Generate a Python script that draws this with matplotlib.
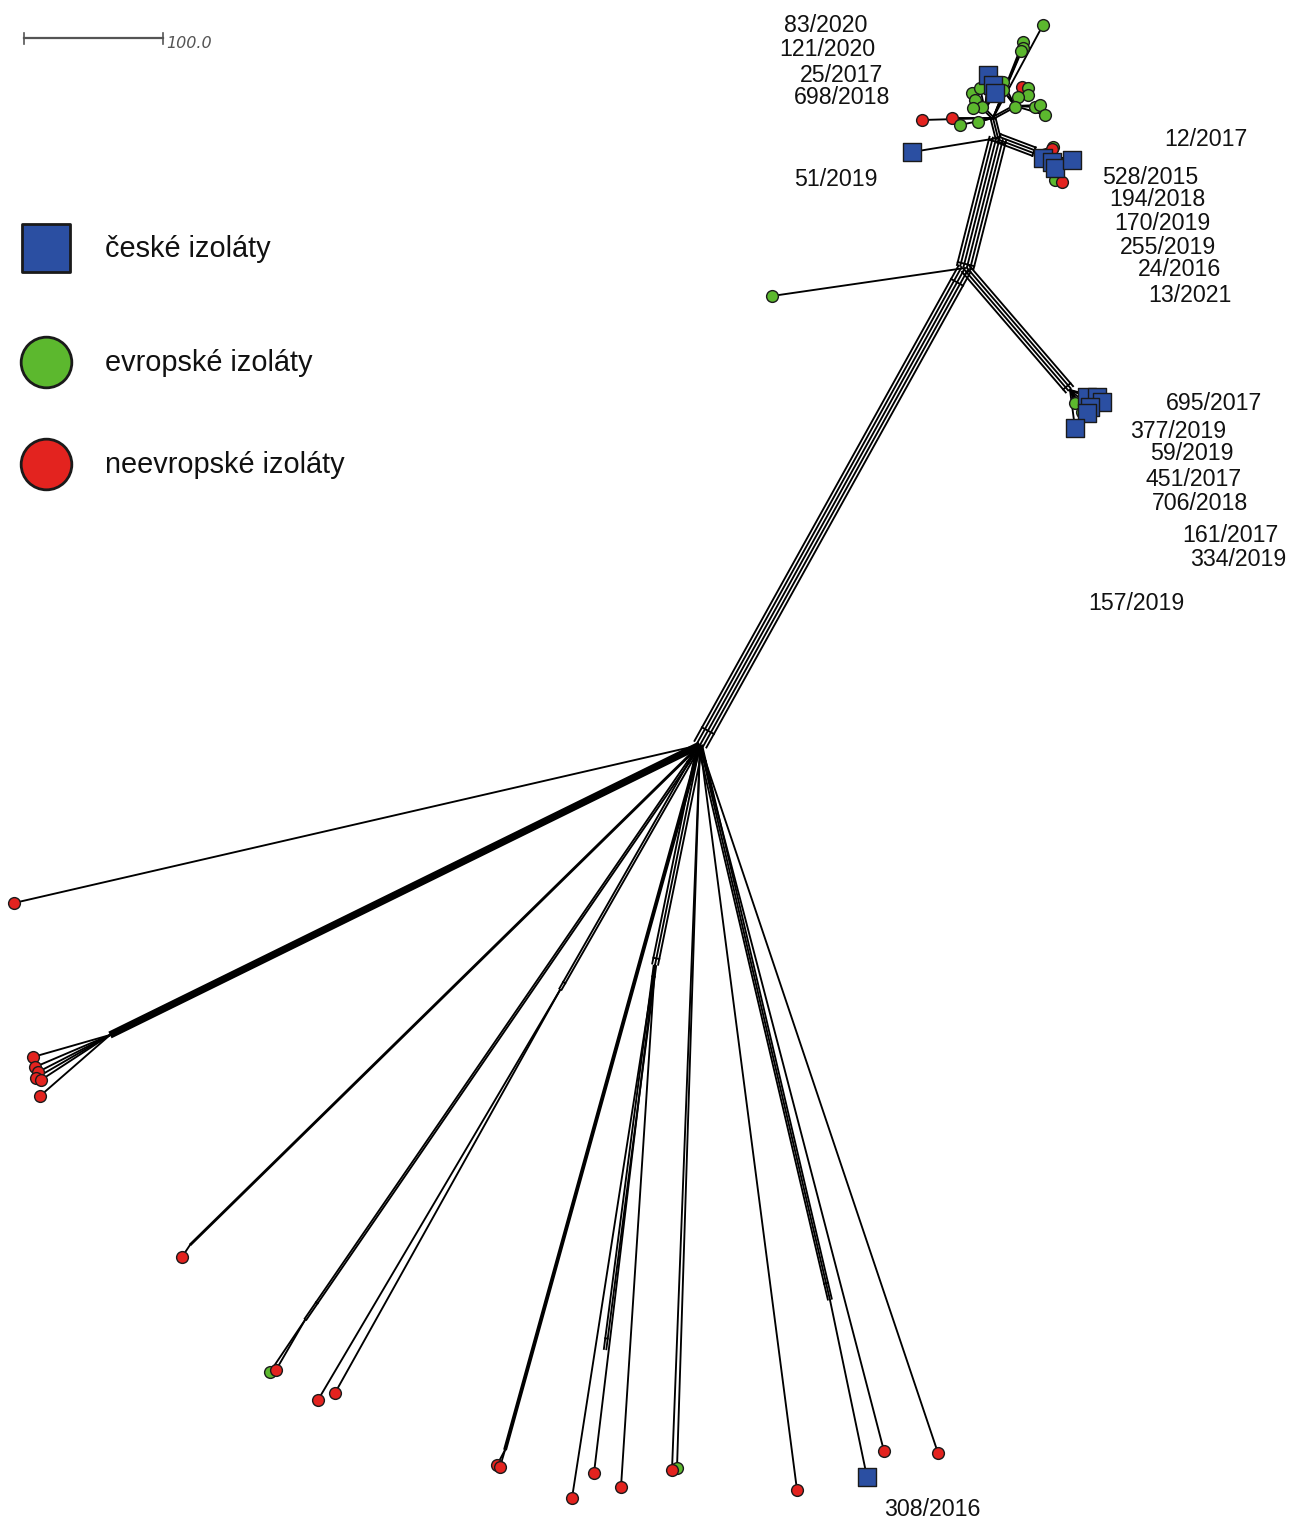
import numpy as np
import matplotlib
matplotlib.use("Agg")
import matplotlib.pyplot as plt

plt.rcParams['font.family'] = ['Liberation Sans', 'DejaVu Sans']

# internal nodes of the network (picture coords, px) and their parents / band widths
node_x = [700, 965, 998, 993, 1035, 1070, 110, 305, 655, 605, 830, 505, 560, 190, 985, 1015]
node_y = [745, 268, 138, 118, 152, 390, 1035, 1320, 965, 1350, 1300, 1450, 990, 1245, 110, 106]
node_parent = [-1, 0, 1, 2, 2, 1, 0, 0, 0, 8, 0, 0, 0, 0, 3, 3]
node_lines = [1, 5, 6, 3, 4, 4, 6, 2, 3, 2, 3, 3, 2, 2, 2, 2]
node_gap = [3, 3.4, 3.4, 2.5, 3, 3.2, 1.1, 2.0, 3, 2.5, 2.0, 1.0, 2.5, 1.0, 2, 2]

# isolates: position, group (b = české, g = evropské, r = neevropské), parent node
tip_x = [1043, 1023, 1023, 1021, 972, 980, 975, 982, 973,
         998, 1003, 1003, 1022, 1028, 1028, 1018, 1015, 1035, 1040, 1045,
         922, 952, 960, 978, 988, 993, 995, 912,
         1053, 1052, 1043, 1052, 1055, 1072, 1055, 1062,
         1075, 1082, 1087, 1097, 1102, 1090, 1087, 1075,
         772, 14, 33, 35, 38, 36, 41, 40, 182, 270, 276, 318, 335,
         497, 500, 572, 594, 621, 677, 672, 797, 867, 884, 938]
tip_y = [25, 42, 48, 51, 93, 88, 100, 107, 108,
         83, 82, 90, 87, 88, 95, 97, 107, 107, 105, 115,
         120, 118, 125, 122, 75, 85, 93, 152,
         147, 149, 158, 162, 168, 160, 180, 182,
         403, 412, 397, 397, 402, 407, 413, 428,
         296, 903, 1057, 1067, 1072, 1078, 1080, 1096, 1257, 1372, 1370, 1400, 1393,
         1465, 1467, 1498, 1473, 1487, 1468, 1470, 1490, 1477, 1451, 1453]
tip_group = list("gggg" "ggggg" "ggg" "rgg" "ggggg" "rrgg" "bbb" "b"
                 "grbbbbgr" "gg" "bbbbbb"
                 "g" "r" "rrrrrr" "r" "gr" "rr" "rr" "rrr" "gr" "r" "b" "rr")
tip_parent = [3, 3, 3, 3, 14, 14, 14, 14, 14,
              15, 15, 15, 15, 15, 15, 15, 15, 15, 15, 15,
              3, 3, 3, 3, 14, 14, 14, 2,
              4, 4, 4, 4, 4, 4, 4, 4,
              5, 5, 5, 5, 5, 5, 5, 5,
              1, 0, 6, 6, 6, 6, 6, 6, 13, 7, 7, 12, 12,
              11, 11, 8, 8, 8, 0, 0, 0, 10, 0, 0]

labels = ["83/2020", "121/2020", "25/2017", "698/2018", "51/2019", "12/2017",
          "528/2015", "194/2018", "170/2019", "255/2019", "24/2016", "13/2021",
          "695/2017", "377/2019", "59/2019", "451/2017", "706/2018", "161/2017",
          "334/2019", "157/2019", "308/2016"]
label_x = [784, 779, 800, 794, 794, 1164, 1102, 1109, 1114, 1120, 1138, 1148,
           1166, 1130, 1150, 1145, 1152, 1182, 1190, 1088, 884]
label_y = [25, 50, 75, 98, 180, 140, 177, 200, 223, 247, 270, 295,
           403, 431, 454, 480, 504, 536, 559, 604, 1509]

legend_names = ["české izoláty", "evropské izoláty", "neevropské izoláty"]
colors = {"b": "#2b4fa2", "g": "#5cb82e", "r": "#e3231f"}

fig = plt.figure(figsize=(13.01, 15.22), dpi=100)
ax = fig.add_axes([0, 0, 1, 1])
ax.set_xlim(0, 1301)
ax.set_ylim(1522, 0)
ax.axis('off')

LW = 1.35


def band(x0, y0, x1, y1, n, gap=3.0, lw=LW):
    dx, dy = x1 - x0, y1 - y0
    L = np.hypot(dx, dy)
    nx, ny = -dy / L, dx / L
    offs = (np.arange(n) - (n - 1) / 2) * gap
    for o in offs:
        ax.plot([x0 + nx * o, x1 + nx * o], [y0 + ny * o, y1 + ny * o],
                color='k', lw=lw, solid_capstyle='butt', zorder=1)
    if n > 1 and gap > 1.5:
        # little boxes at both ends like a splits graph
        for t in (0.03, 0.97):
            cx, cy = x0 + dx * t, y0 + dy * t
            ax.plot([cx + nx * offs[0], cx + nx * offs[-1]],
                    [cy + ny * offs[0], cy + ny * offs[-1]],
                    color='k', lw=lw, zorder=1)


for i, p in enumerate(node_parent):
    if p < 0:
        continue
    band(node_x[p], node_y[p], node_x[i], node_y[i], node_lines[i], node_gap[i])

for i in range(len(tip_x)):
    p = tip_parent[i]
    ax.plot([node_x[p], tip_x[i]], [node_y[p], tip_y[i]], color='k', lw=LW, zorder=1)

for i in range(len(tip_x)):
    g = tip_group[i]
    if g == 'b':
        ax.scatter(tip_x[i], tip_y[i], s=165, marker='s', c=colors[g],
                   edgecolors='#1a1a1a', linewidths=1.0, zorder=4)
    else:
        ax.scatter(tip_x[i], tip_y[i], s=72, marker='o', c=colors[g],
                   edgecolors='#1a1a1a', linewidths=1.0, zorder=3)

for t, x, y in zip(labels, label_x, label_y):
    ax.text(x, y, t, fontsize=16.7, ha='left', va='center', color='#111111')

# legend
for k, (g, m, s) in enumerate([("b", "s", 1230), ("g", "o", 1330), ("r", "o", 1330)]):
    ly = [248, 362, 464][k]
    ax.scatter(46, ly, s=s, marker=m, c=colors[g], edgecolors='#1a1a1a',
               linewidths=2.0, zorder=4)
    ax.text(105, ly + 1, legend_names[k], fontsize=20.8, ha='left', va='center',
            color='#111111')

# scale bar
ax.plot([24, 163], [38, 38], color='#555555', lw=1.6)
ax.plot([24, 24], [33, 44], color='#555555', lw=1.2)
ax.plot([163, 163], [33, 44], color='#555555', lw=1.2)
ax.text(166, 43, "100.0", fontsize=11.5, style='italic', family='DejaVu Sans',
        color='#555555', ha='left', va='center')

fig.savefig("out.png", dpi=100)
